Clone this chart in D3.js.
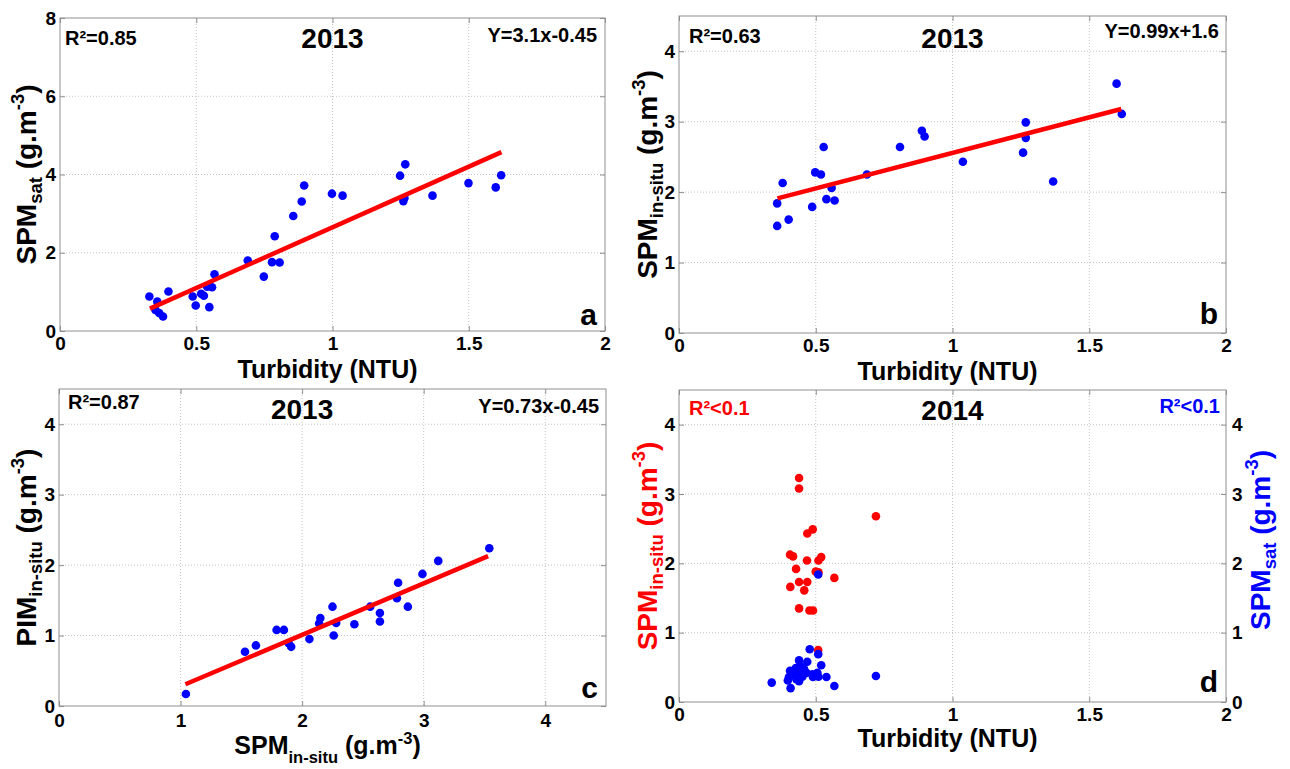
<!DOCTYPE html>
<html>
<head>
<meta charset="utf-8">
<script src="https://cdn.jsdelivr.net/npm/d3@7"></script>
<style>
  html, body { margin: 0; padding: 0; background: #fff; }
  svg { display: block; }
  text { font-family: "Liberation Sans", Arial, Helvetica, sans-serif; font-weight: bold; }
</style>
</head>
<body>
<svg id="chart" width="1290" height="769"></svg>
<script>
// ---------------- DATA ----------------
// Panel a: Turbidity (NTU) vs SPM_sat, 2013
const aTurbidity = [0.328,0.357,0.350,0.364,0.378,0.398,0.487,0.498,0.518,0.528,0.548,0.540,0.558,0.567,0.689,0.748,0.778,0.788,0.806,0.856,0.887,0.896,0.998,1.037,1.248,1.267,1.260,1.264,1.367,1.499,1.599,1.619];
const aSPMsat     = [0.88,0.75,0.54,0.46,0.37,1.01,0.88,0.65,0.95,0.90,0.61,1.13,1.12,1.45,1.80,1.39,1.76,2.42,1.75,2.94,3.31,3.72,3.51,3.46,3.97,4.26,3.32,3.40,3.46,3.78,3.67,3.98];
const aFit = { slope: 3.1, intercept: -0.45, xFrom: 0.33, xTo: 1.62 };

// Panel b: Turbidity (NTU) vs SPM_in-situ, 2013
const bTurbidity = [0.359,0.359,0.379,0.401,0.487,0.498,0.519,0.529,0.539,0.558,0.569,0.687,0.808,0.888,0.898,1.038,1.258,1.268,1.268,1.368,1.600,1.619];
const bSPMinsitu = [1.84,1.52,2.13,1.61,1.79,2.28,2.25,2.64,1.90,2.06,1.88,2.25,2.64,2.87,2.79,2.43,2.56,2.99,2.77,2.15,3.54,3.11];
const bFit = { slope: 1.01, intercept: 1.547, xFrom: 0.36, xTo: 1.617 };

// Panel c: SPM_in-situ vs PIM_in-situ, 2013
const cSPMinsitu = [1.044,1.53,1.62,1.79,1.85,1.89,1.91,2.06,2.14,2.15,2.25,2.26,2.28,2.43,2.56,2.64,2.64,2.78,2.79,2.87,2.99,3.12,3.54];
const cPIMinsitu = [0.17,0.77,0.86,1.08,1.08,0.89,0.84,0.95,1.17,1.25,1.41,1.00,1.18,1.16,1.41,1.32,1.20,1.53,1.75,1.41,1.875,2.06,2.24];
const cFit = { slope: 0.73, intercept: -0.45, xFrom: 1.04, xTo: 3.53 };

// Panel d: Turbidity (NTU) vs SPM_in-situ (red) and SPM_sat (blue), 2014
const dTurbRed   = [0.439,0.439,0.720,0.489,0.469,0.406,0.417,0.468,0.520,0.510,0.428,0.500,0.510,0.568,0.439,0.469,0.407,0.458,0.439,0.477,0.490,0.509];
const dSPMinsitu = [3.23,3.08,2.68,2.49,2.43,2.125,2.10,2.04,2.09,2.04,1.92,1.88,1.87,1.79,1.73,1.73,1.66,1.61,1.35,1.32,1.32,0.75];
const dTurbBlue  = [0.509,0.478,0.509,0.439,0.469,0.520,0.406,0.427,0.445,0.457,0.418,0.436,0.466,0.488,0.506,0.402,0.429,0.451,0.490,0.510,0.398,0.539,0.339,0.408,0.568,0.720,0.439];
const dSPMsat     = [1.84,0.76,0.69,0.60,0.58,0.53,0.45,0.49,0.51,0.48,0.40,0.43,0.42,0.40,0.42,0.36,0.33,0.365,0.36,0.365,0.31,0.36,0.28,0.20,0.23,0.375,0.30];

// Tick values
const ticksNTU = [0, 0.5, 1, 1.5, 2];
const ticksSPMa = [0, 2, 4, 6, 8];
const ticksConc = [0, 1, 2, 3, 4];

// ---------------- DRAW ----------------
const svg = d3.select("#chart");
const BLUE = "#0000ff", RED = "#ff0000", BOX = "#8f8f8f", GRID = "#c4c4c4";
const TICK_FS = 19, XLABEL_FS = 25, YLABEL_FS = 28, TITLE_FS = 28, ANN_FS = 20, LETTER_FS = 30;

function richLabel(sel, parts, fs, subShift) {
  let shift = 0;
  parts.forEach(p => {
    const ts = sel.append("tspan").text(p.t);
    let target = 0, size = fs;
    if (p.k === "sub") { target = subShift * fs; size = 0.66 * fs; }
    if (p.k === "sup") { target = -0.42 * fs; size = 0.66 * fs; }
    ts.attr("font-size", size).attr("dy", target - shift);
    shift = target;
  });
}

function panel(cfg) {
  const [x0, y0, x1, y1] = cfg.box;
  const x = d3.scaleLinear().domain(cfg.xDomain).range([x0, x1]);
  const y = d3.scaleLinear().domain(cfg.yDomain).range([y1, y0]);
  const g = svg.append("g");

  // grid
  g.append("g").selectAll("line").data(cfg.xTicks.filter(v => v > cfg.xDomain[0] && v < cfg.xDomain[1]))
    .join("line").attr("x1", d => x(d)).attr("x2", d => x(d)).attr("y1", y0).attr("y2", y1)
    .attr("stroke", GRID).attr("stroke-width", 1).attr("stroke-dasharray", "1,2");
  g.append("g").selectAll("line").data(cfg.yTicks.filter(v => v > cfg.yDomain[0] && v < cfg.yDomain[1]))
    .join("line").attr("y1", d => y(d)).attr("y2", d => y(d)).attr("x1", x0).attr("x2", x1)
    .attr("stroke", GRID).attr("stroke-width", 1).attr("stroke-dasharray", "1,2");

  // axes
  const fmt = d => String(d);
  const ax = g.append("g").attr("transform", `translate(0,${y1})`)
    .call(d3.axisBottom(x).tickValues(cfg.xTicks).tickFormat(fmt).tickSize(-5).tickPadding(cfg.xPad || 6));
  const axT = g.append("g").attr("transform", `translate(0,${y0})`)
    .call(d3.axisTop(x).tickValues(cfg.xTicks).tickFormat("").tickSize(-5));
  const ay = g.append("g").attr("transform", `translate(${x0},0)`)
    .call(d3.axisLeft(y).tickValues(cfg.yTicks).tickFormat(fmt).tickSize(-5).tickPadding(4));
  const ayR = g.append("g").attr("transform", `translate(${x1},0)`)
    .call(d3.axisRight(y).tickValues(cfg.yTicks).tickFormat(cfg.rightLabels ? fmt : "").tickSize(-5).tickPadding(6));
  [ax, axT, ay, ayR].forEach(a => {
    a.select(".domain").remove();
    a.selectAll(".tick line").attr("stroke", BOX);
    a.selectAll(".tick text").attr("fill", "#000").attr("font-size", TICK_FS)
      .attr("font-family", "'Liberation Sans', Arial, sans-serif").attr("font-weight", "bold");
  });

  // box
  g.append("rect").attr("x", x0).attr("y", y0).attr("width", x1 - x0).attr("height", y1 - y0)
    .attr("fill", "none").attr("stroke", BOX).attr("stroke-width", 1);

  // points
  cfg.series.forEach(s => {
    g.append("g").selectAll("circle").data(s.xs.map((v, i) => [v, s.ys[i]]))
      .join("circle").attr("cx", d => x(d[0])).attr("cy", d => y(d[1])).attr("r", 4.3)
      .attr("fill", s.color);
  });

  // fit line
  if (cfg.fit) {
    const f = cfg.fit;
    const pts = [f.xFrom, f.xTo].map(v => [v, f.slope * v + f.intercept]);
    g.append("path").attr("d", d3.line().x(d => x(d[0])).y(d => y(d[1]))(pts))
      .attr("stroke", RED).attr("stroke-width", 4.5).attr("fill", "none");
  }

  // annotations
  g.append("text").attr("x", x0 + cfg.r2.dx).attr("y", y0 + cfg.r2.dy).attr("font-size", ANN_FS)
    .attr("fill", cfg.r2.color || "#000").text(cfg.r2.text);
  g.append("text").attr("x", x(cfg.title.at)).attr("y", y0 + cfg.title.dy).attr("text-anchor", "middle")
    .attr("font-size", TITLE_FS).attr("fill", "#000").text(cfg.title.text);
  g.append("text").attr("x", x1 - cfg.eq.dx).attr("y", y0 + cfg.eq.dy).attr("text-anchor", "end")
    .attr("font-size", ANN_FS).attr("fill", cfg.eq.color || "#000").text(cfg.eq.text);
  g.append("text").attr("x", x1 - 8).attr("y", y1 - cfg.letterDy).attr("text-anchor", "end")
    .attr("font-size", LETTER_FS).attr("fill", "#000").text(cfg.letter);

  // x label
  const xl = g.append("text").attr("x", (x0 + x1) / 2 - 5).attr("y", cfg.xLabelY).attr("text-anchor", "middle")
    .attr("font-size", XLABEL_FS).attr("fill", "#000");
  richLabel(xl, cfg.xLabel, XLABEL_FS, 0.36);

  // y label(s)
  const cy = (y0 + y1) / 2;
  const yl = g.append("text").attr("transform", `translate(${cfg.yLabelX},${cy}) rotate(-90)`)
    .attr("text-anchor", "middle").attr("font-size", YLABEL_FS).attr("fill", cfg.yLabelColor || "#000");
  richLabel(yl, cfg.yLabel, YLABEL_FS, 0.22);
  if (cfg.yLabelR) {
    const yr = g.append("text").attr("transform", `translate(${cfg.yLabelRX},${cy - 6}) rotate(-90)`)
      .attr("text-anchor", "middle").attr("font-size", YLABEL_FS).attr("fill", cfg.yLabelRColor);
    richLabel(yr, cfg.yLabelR, YLABEL_FS, 0.22);
  }
}

const unitLbl = [{t: " (g.m", k: "n"}, {t: "-3", k: "sup"}, {t: ")", k: "n"}];
const turbLbl = [{t: "Turbidity (NTU)", k: "n"}];
const spmSat = [{t: "SPM", k: "n"}, {t: "sat", k: "sub"}].concat(unitLbl);
const spmIn = [{t: "SPM", k: "n"}, {t: "in-situ", k: "sub"}].concat(unitLbl);
const pimIn = [{t: "PIM", k: "n"}, {t: "in-situ", k: "sub"}].concat(unitLbl);

panel({
  box: [60, 18, 605, 331], xDomain: [0, 2], yDomain: [0, 8], xTicks: ticksNTU, yTicks: ticksSPMa,
  series: [{xs: aTurbidity, ys: aSPMsat, color: BLUE}], fit: aFit,
  r2: {text: "R²=0.85", dx: 5, dy: 27}, title: {text: "2013", at: 1, dy: 30},
  eq: {text: "Y=3.1x-0.45", dx: 8, dy: 24}, letter: "a", letterDy: 6,
  xLabel: turbLbl, xLabelY: 378, yLabel: spmSat, yLabelX: 36
});
panel({
  box: [679, 16, 1226, 333], xDomain: [0, 2], yDomain: [0, 4.5], xTicks: ticksNTU, yTicks: ticksConc,
  series: [{xs: bTurbidity, ys: bSPMinsitu, color: BLUE}], fit: bFit,
  r2: {text: "R²=0.63", dx: 10, dy: 27}, title: {text: "2013", at: 1, dy: 32},
  eq: {text: "Y=0.99x+1.6", dx: 7, dy: 22}, letter: "b", letterDy: 9,
  xLabel: turbLbl, xLabelY: 380, yLabel: spmIn, yLabelX: 657
});
panel({
  box: [59, 389, 606, 706], xDomain: [0, 4.5], yDomain: [0, 4.5], xTicks: ticksConc, yTicks: ticksConc,
  series: [{xs: cSPMinsitu, ys: cPIMinsitu, color: BLUE}], fit: cFit,
  r2: {text: "R²=0.87", dx: 9, dy: 20}, title: {text: "2013", at: 2, dy: 30},
  eq: {text: "Y=0.73x-0.45", dx: 7, dy: 24}, letter: "c", letterDy: 8, xPad: 8,
  xLabel: spmIn, xLabelY: 754, yLabel: pimIn, yLabelX: 36
});
panel({
  box: [679, 390, 1226, 702], xDomain: [0, 2], yDomain: [0, 4.5], xTicks: ticksNTU, yTicks: ticksConc,
  series: [{xs: dTurbRed, ys: dSPMinsitu, color: RED}, {xs: dTurbBlue, ys: dSPMsat, color: BLUE}],
  r2: {text: "R²<0.1", dx: 10, dy: 25, color: RED}, title: {text: "2014", at: 1, dy: 30},
  eq: {text: "R²<0.1", dx: 6, dy: 23, color: BLUE}, letter: "d", letterDy: 10, rightLabels: true,
  xLabel: turbLbl, xLabelY: 747, yLabel: spmIn, yLabelX: 657, yLabelColor: RED,
  yLabelR: spmSat, yLabelRX: 1270, yLabelRColor: BLUE
});
</script>
</body>
</html>
